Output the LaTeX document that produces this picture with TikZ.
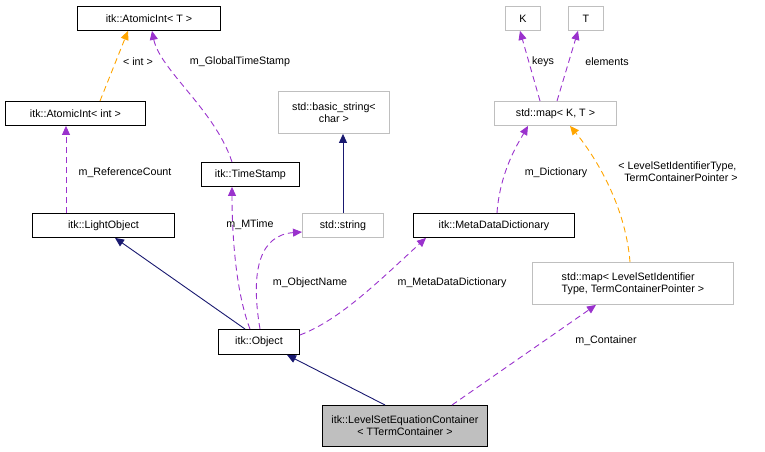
\documentclass[tikz,border=0pt]{standalone}
\usepackage{fontspec}
\setmainfont{Liberation Sans}
\usetikzlibrary{arrows.meta}
\definecolor{pur}{HTML}{9A32CD}
\definecolor{org}{HTML}{FFA500}
\definecolor{nav}{HTML}{191970}
\definecolor{gb}{HTML}{BFBFBF}
\begin{document}
\begin{tikzpicture}[x=1pt,y=-1pt,font=\fontsize{10.7}{12}\selectfont,
 box/.style={draw=black,fill=white,line width=0.9pt,inner sep=0pt,anchor=north west},
 gbox/.style={box,draw=gb},
 tip/.style={-{Triangle[length=9pt,width=8pt]}},
 dsh/.style={dash pattern=on 6pt off 4pt},
 mem/.style={tip,pur,dsh,line width=0.9pt},
 tpl/.style={tip,org,dsh,line width=0.9pt},
 inh/.style={tip,nav,line width=0.9pt},
 lbl/.style={inner sep=1pt,align=left,font=\fontsize{10.7}{12}\selectfont}]
\useasboundingbox (0,0) rectangle (765,452);
\node[box,minimum width=143,minimum height=24] (at) at (77,6) {itk::AtomicInt< T >};
\node[box,minimum width=140,minimum height=24] (ai) at (5,101) {itk::AtomicInt< int >};
\node[box,minimum width=142,minimum height=24] (lo) at (32,213) {itk::LightObject};
\node[box,minimum width=98,minimum height=24] (ts) at (201,162) {itk::TimeStamp};
\node[gbox,minimum width=111,minimum height=42,align=center] (bs) at (278,91) {std::basic\_string<\\char >};
\node[gbox,minimum width=81,minimum height=24] (ss) at (302,213) {std::string};
\node[box,minimum width=161,minimum height=24] (md) at (413,213) {itk::MetaDataDictionary};
\node[gbox,minimum width=35,minimum height=24] (k) at (505,6) {K};
\node[gbox,minimum width=35,minimum height=24] (t) at (568,6) {T};
\node[gbox,minimum width=122,minimum height=24] (mkt) at (494,101) {std::map< K, T >};
\node[gbox,minimum width=201,minimum height=42,align=left] (mls) at (532,262) {std::map< LevelSetIdentifier\\Type, TermContainerPointer >};
\node[box,minimum width=81,minimum height=25] (ob) at (218,329) {itk::Object};
\node[box,fill=gb,minimum width=165,minimum height=41,align=center] (lsc) at (322,405) {itk::LevelSetEquationContainer\\< TTermContainer >};

\draw[tpl] (ai.north -| 100,0) -- (at.south -| 128,0);
\node[lbl] at (138,62) {< int >};
\draw[mem] (lo.north -| 66,0) -- (ai.south -| 66,0);
\node[lbl] at (125,173) {m\_ReferenceCount};
\draw[mem] (ts.north -| 232,0) .. controls (215,110) and (160,70) .. (at.south -| 152,0);
\node[lbl] at (240,62) {m\_GlobalTimeStamp};
\draw[inh] (ob.north -| 245,0) -- (lo.south -| 115,0);
\draw[mem] (ob.north -| 250,0) .. controls (235,290) and (232,230) .. (ts.south -| 232,0);
\node[lbl] at (250,225) {m\_MTime};
\draw[mem] (ob.north -| 260,0) .. controls (250,270) and (260,235) .. (ss.west |- 0,232);
\node[lbl] at (310,283) {m\_ObjectName};
\draw[inh] (ss.north -| 343,0) -- (bs.south -| 343,0);
\draw[mem] (ob.east |- 0,335) .. controls (340,320) and (380,280) .. (md.south -| 426,0);
\node[lbl] at (452,283) {m\_MetaDataDictionary};
\draw[mem] (md.north -| 497,0) .. controls (500,170) and (520,140) .. (mkt.south -| 528,0);
\node[lbl] at (556,173) {m\_Dictionary};
\draw[mem] (mkt.north -| 540,0) -- (k.south -| 520,0);
\node[lbl] at (543,62) {keys};
\draw[mem] (mkt.north -| 557,0) -- (t.south -| 578,0);
\node[lbl] at (607,62) {elements};
\draw[tpl] (mls.north -| 630,0) .. controls (625,200) and (590,150) .. (mkt.south -| 570,0);
\node[lbl] at (678,172) {< LevelSetIdentifierType,\\\ \ TermContainerPointer >};
\draw[inh] (lsc.north -| 385,0) -- (ob.south -| 287,0);
\draw[mem] (lsc.north -| 452,0) -- (mls.south -| 596,0);
\node[lbl] at (606,341) {m\_Container};
\end{tikzpicture}
\end{document}
